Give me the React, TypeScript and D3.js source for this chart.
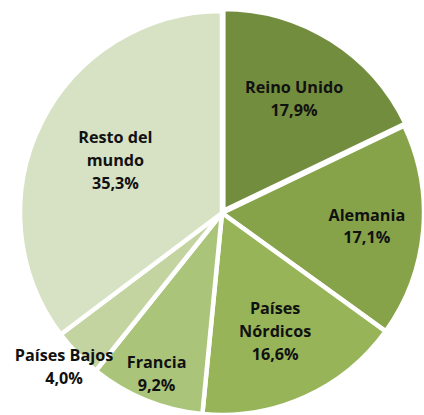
import React from "react";
import * as d3 from "d3";

const categories = ["Reino Unido", "Alemania", "Países Nórdicos", "Francia", "Países Bajos", "Resto del mundo"];
const values = [17.9, 17.1, 16.6, 9.2, 4.0, 35.3];
const labelLines = [["Reino Unido"], ["Alemania"], ["Países", "Nórdicos"], ["Francia"], ["Países Bajos"], ["Resto del", "mundo"]];
const colors = ["#738D3E", "#86A34A", "#97B558", "#AAC47A", "#C3D4A1", "#D7E2C4"];
const labelRadius = [0.67, 0.72, 0.64, 0.86, 1.09, 0.59];

const W = 424, H = 415;
const cx = 222, cy = 213, R = 202;

export default function App() {
  const pie = d3.pie<number>().sort(null).value((d) => d);
  const arcs = pie(values);
  const arcGen = d3.arc<d3.PieArcDatum<number>>().innerRadius(0).outerRadius(R);
  const fmt = (v: number) => v.toFixed(1).replace(".", ",") + "%";
  const lh = 23;
  return (
    <svg width={W} height={H} style={{ position: "absolute", left: 0, top: 0, background: "#fff" }}
      fontFamily="'Open Sans', Lato, sans-serif">
      <g transform={`translate(${cx},${cy})`}>
        {arcs.map((a, i) => {
          const mid = (a.startAngle + a.endAngle) / 2;
          const ex = i === 0 ? 2.5 : 0;
          return (
            <path key={i} d={arcGen(a) || ""} fill={colors[i]} stroke="#fff" strokeWidth={4.5} strokeLinejoin="miter"
              transform={`translate(${Math.sin(mid) * ex},${-Math.cos(mid) * ex})`} />
          );
        })}
        {arcs.map((a, i) => {
          const mid = (a.startAngle + a.endAngle) / 2;
          const r = R * labelRadius[i];
          const x = Math.sin(mid) * r;
          const y = -Math.cos(mid) * r;
          const lines = [...labelLines[i], fmt(values[i])];
          const y0 = y - ((lines.length - 1) * lh) / 2;
          return (
            <text key={i} x={x} y={y0} textAnchor="middle" fontWeight="bold" fontSize={16.2} fill="#111" dominantBaseline="central">
              {lines.map((l, j) => (
                <tspan key={j} x={x} y={y0 + j * lh}>{l}</tspan>
              ))}
            </text>
          );
        })}
      </g>
    </svg>
  );
}
